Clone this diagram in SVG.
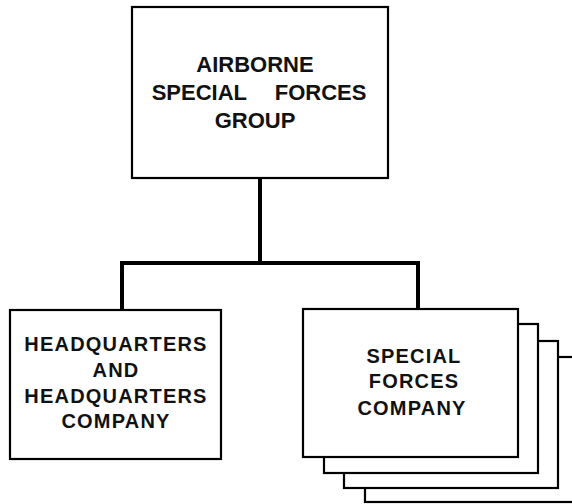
<svg xmlns="http://www.w3.org/2000/svg" width="572" height="504" viewBox="0 0 572 504">
<style>
.box{fill:#fff;stroke:#000;stroke-width:2.2}
.conn{fill:none;stroke:#000;stroke-width:4}
text{font-family:"Liberation Sans",Arial,sans-serif;font-weight:bold;fill:#111;text-anchor:middle}
.t1{font-size:22px}
.t2{font-size:20px;letter-spacing:1.2px}
</style>
<rect width="572" height="504" fill="#fff"/>
<g id="connectors">
<path class="conn" d="M260 178 V263 M122 310 V263 H418 V309"/>
</g>
<g id="group">
<rect class="box" x="132" y="7" width="256" height="171"/>
<text class="t1" x="255" y="72">AIRBORNE</text>
<text class="t1" x="259" y="100" word-spacing="22">SPECIAL FORCES</text>
<text class="t1" x="255" y="128">GROUP</text>
</g>
<g id="hq">
<rect class="box" x="10" y="310" width="211" height="149"/>
<text class="t2" x="116" y="351">HEADQUARTERS</text>
<text class="t2" x="116" y="377">AND</text>
<text class="t2" x="116" y="403">HEADQUARTERS</text>
<text class="t2" x="116" y="428">COMPANY</text>
</g>
<g id="sf">
<rect class="box" x="365" y="357" width="220" height="145"/>
<rect class="box" x="344" y="341" width="214" height="147"/>
<rect class="box" x="324" y="324" width="214" height="149"/>
<rect class="box" x="303" y="309" width="215" height="148"/>
<text class="t2" x="414" y="363">SPECIAL</text>
<text class="t2" x="414" y="388">FORCES</text>
<text class="t2" x="412" y="415">COMPANY</text>
</g>
</svg>
